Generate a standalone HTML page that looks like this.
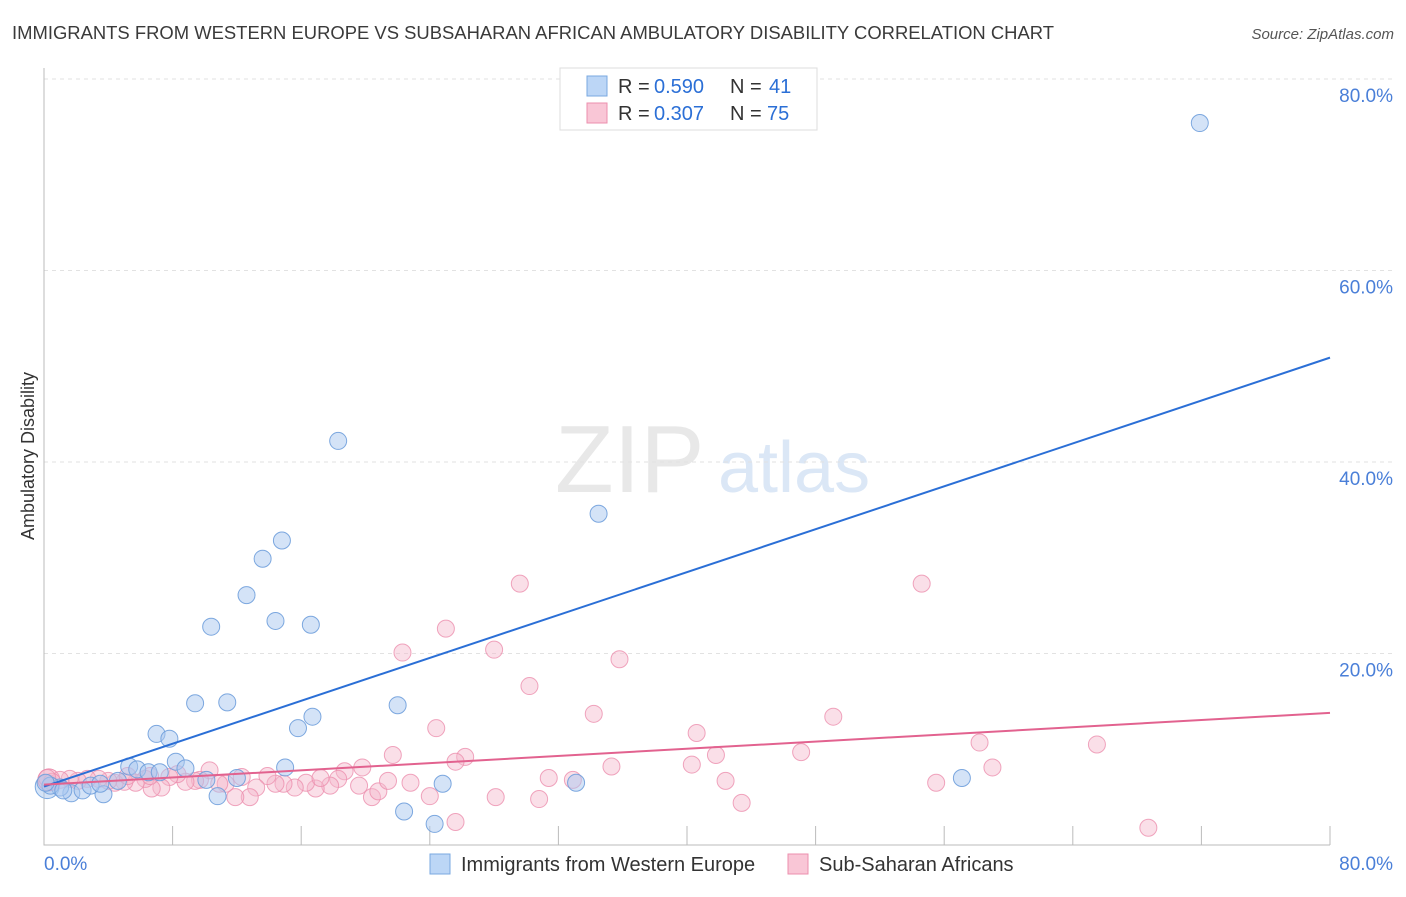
<!DOCTYPE html>
<html><head><meta charset="utf-8"><style>
body{margin:0;background:#fff;font-family:"Liberation Sans",sans-serif}
svg text{font-family:"Liberation Sans",sans-serif}
</style></head><body>
<svg id="c" width="1406" height="892" xmlns="http://www.w3.org/2000/svg">
<text x="12" y="39" font-size="18" fill="#3a3a3a" textLength="1042" lengthAdjust="spacingAndGlyphs">IMMIGRANTS FROM WESTERN EUROPE VS SUBSAHARAN AFRICAN AMBULATORY DISABILITY CORRELATION CHART</text>
<text x="1394" y="39" font-size="15" fill="#555" font-style="italic" text-anchor="end">Source: ZipAtlas.com</text>
<text transform="translate(34,456) rotate(-90)" font-size="18" fill="#333" text-anchor="middle">Ambulatory Disability</text>
<text x="555" y="492" font-size="96" fill="#e8e8e8" font-family="Liberation Serif">ZIP</text>
<text x="718" y="492" font-size="72" fill="#dbe7f6">atlas</text>
<g id="grid"></g><g id="pts"></g><g id="lines"></g>
<g>
<rect x="560" y="68" width="257" height="62" fill="#fff" stroke="#ddd"/>
<rect x="587" y="76" width="20" height="20" fill="#bcd6f6" stroke="#7aa8e0"/>
<rect x="587" y="103" width="20" height="20" fill="#f9c6d6" stroke="#ec8fae"/>
<text x="618" y="93" font-size="20" fill="#333">R =</text><text x="654" y="93" font-size="20" fill="#2b6fd6">0.590</text>
<text x="730" y="93" font-size="20" fill="#333">N =</text><text x="769" y="93" font-size="20" fill="#2b6fd6">41</text>
<text x="618" y="120" font-size="20" fill="#333">R =</text><text x="654" y="120" font-size="20" fill="#2b6fd6">0.307</text>
<text x="730" y="120" font-size="20" fill="#333">N =</text><text x="767" y="120" font-size="20" fill="#2b6fd6">75</text>
</g>
<g>
<rect x="430" y="854" width="20" height="20" fill="#bcd6f6" stroke="#7aa8e0"/>
<text x="461" y="871" font-size="20" fill="#333">Immigrants from Western Europe</text>
<rect x="788" y="854" width="20" height="20" fill="#f9c6d6" stroke="#ec8fae"/>
<text x="819" y="871" font-size="20" fill="#333">Sub-Saharan Africans</text>
</g>
</svg>
<script>
const yTicks=[20,40,60,80];
const xTickLabels=["0.0%","80.0%"];
const blueX=[71.9,18.3,34.5,14.8,13.6,12.6,10.4,14.4,16.6,9.4,11.4,7.0,7.8,15.8,16.7,22.0,8.2,8.8,5.3,5.8,6.5,7.2,12.0,15.0,10.1,24.8,33.1,57.1,10.8,22.4,24.3,3.7,1.7,2.4,1.0,0.4,2.9,4.6,3.5,1.2,0.1];
const blueY=[75.4,42.2,34.6,31.8,29.9,26.1,22.8,23.4,23.0,14.8,14.9,11.6,11.1,12.2,13.4,14.6,8.7,8.0,8.2,7.9,7.6,7.6,7.0,8.1,6.8,6.4,6.5,7.0,5.1,3.5,2.2,5.3,5.4,5.7,6.0,6.2,6.2,6.7,6.4,5.7,6.5];
const pinkX=[29.6,54.6,25.0,22.3,28.0,35.8,30.2,34.2,49.1,24.4,40.6,58.2,65.5,21.7,26.2,25.6,47.1,41.8,35.3,40.3,59.0,31.4,32.9,42.4,55.5,43.4,68.7,25.6,28.1,30.8,24.0,20.4,20.8,19.8,18.7,18.3,17.8,16.9,16.3,15.6,14.9,14.4,13.9,13.2,12.8,11.9,12.3,11.3,10.3,9.7,9.4,8.8,8.3,7.8,7.3,6.7,6.3,5.7,5.0,4.4,4.0,3.4,2.7,2.1,1.6,1.0,0.5,0.2,22.8,19.6,21.4,17.2,10.9,6.6,5.2];
const pinkY=[27.3,27.3,22.6,20.1,20.4,19.4,16.6,13.7,13.4,12.2,11.7,10.7,10.5,9.4,9.2,8.7,9.7,9.4,8.2,8.4,8.1,7.0,6.8,6.7,6.5,4.4,1.8,2.4,5.0,4.8,5.1,5.0,5.6,8.1,7.7,6.9,6.2,5.9,6.5,6.0,6.4,6.4,7.2,6.0,5.0,5.0,7.1,6.4,7.8,6.8,6.7,6.6,7.4,7.1,6.0,5.9,6.9,6.5,6.6,6.5,6.7,6.9,6.9,6.7,6.9,6.8,6.6,7.0,6.5,6.2,6.7,7.0,6.4,7.2,7.2];
const blueFit=[6.1,50.9], pinkFit=[6.3,13.8];
const NS='http://www.w3.org/2000/svg';
const X=v=>44+v/80*1286, Y=v=>845-v/20*191.5;
function mk(t,a,p){const e=document.createElementNS(NS,t);for(const k in a)e.setAttribute(k,a[k]);p.appendChild(e);return e;}
const g=document.getElementById('grid');
yTicks.forEach(t=>{
 const l=mk('line',{x1:44,x2:1394,y1:Y(t),y2:Y(t),stroke:'#e2e2e2','stroke-dasharray':'4,4'},g);
 
 
 const tx=mk('text',{x:1393,y:Y(t)+23,'font-size':19,fill:'#4a7fd8','text-anchor':'end'},g);tx.textContent=t.toFixed(1)+'%';
 
 
});
const ax=mk('path',{d:'M44,68V845H1330',stroke:'#bbb',fill:'none'},g);


for(let i=1;i<=10;i++){const l=mk('line',{x1:X(i*8),x2:X(i*8),y1:826,y2:845,stroke:'#bbb'},g);
 
 }
[[0,'start',44],[80,'end',1393]].forEach((d,i)=>{const t=mk('text',{x:d[2],y:870,'font-size':19,fill:'#4a7fd8','text-anchor':d[1]},g);t.textContent=xTickLabels[i];
 
 });
const p=document.getElementById('pts');
const big1=mk('circle',{cx:X(0.2),cy:Y(6.1),r:12,fill:'#a9c8f0','fill-opacity':0.5,stroke:'#7aa8e0'},p);


const big2=mk('circle',{cx:X(0.3),cy:Y(6.8),r:11,fill:'#f5b8cb','fill-opacity':0.5,stroke:'#ec8fae'},p);


pinkX.forEach((x,i)=>{const c=mk('circle',{cx:X(x),cy:Y(pinkY[i]),r:8.5,fill:'#f5b8cb','fill-opacity':0.45,stroke:'#ec8fae','stroke-opacity':0.8},p);
 
 });
blueX.forEach((x,i)=>{const c=mk('circle',{cx:X(x),cy:Y(blueY[i]),r:8.5,fill:'#a9c8f0','fill-opacity':0.5,stroke:'#6f9fdc','stroke-opacity':0.9},p);
 
 });
const L=document.getElementById('lines');
const b=mk('line',{x1:X(0),y1:Y(blueFit[0]),x2:X(80),y2:Y(blueFit[1]),stroke:'#2b6fd6','stroke-width':2},L);


const k=mk('line',{x1:X(0),y1:Y(pinkFit[0]),x2:X(80),y2:Y(pinkFit[1]),stroke:'#e2628f','stroke-width':2},L);


</script>
</body></html>
